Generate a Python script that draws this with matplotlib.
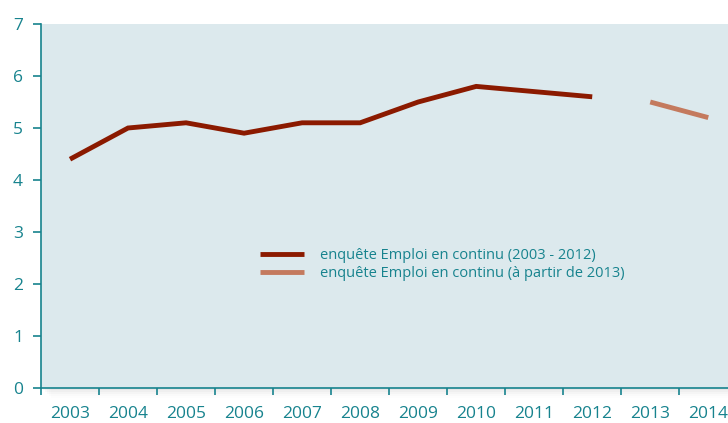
import numpy as np
import matplotlib.pyplot as plt
from matplotlib.patches import Rectangle

years = ["2003", "2004", "2005", "2006", "2007", "2008",
         "2009", "2010", "2011", "2012", "2013", "2014"]
serie_ancienne = [4.4, 5.0, 5.1, 4.9, 5.1, 5.1, 5.5, 5.8, 5.7, 5.6]
serie_nouvelle = [5.5, 5.2]
label_ancienne = "enquête Emploi en continu (2003 - 2012)"
label_nouvelle = "enquête Emploi en continu (à partir de 2013)"

teal = "#17838e"
plt.rcParams['font.family'] = ['Open Sans', 'DejaVu Sans']

fig = plt.figure(figsize=(7.28, 4.23), dpi=100)

# soft shadow below the plot area
for i, a in enumerate([0.06, 0.045, 0.03, 0.02, 0.01]):
    d = (i + 1) * 2
    fig.patches.append(Rectangle((41 / 728 + d / 728, (35 - d) / 423),
                                 1.0, 364 / 423, transform=fig.transFigure,
                                 facecolor="#777777", alpha=a,
                                 edgecolor="none", zorder=0))

ax = fig.add_axes([41 / 728, 35 / 423, 687 / 728, 364 / 423])
ax.set_zorder(2)
ax.set_facecolor("#dce9ed")

x_old = np.arange(len(serie_ancienne))
x_new = np.arange(len(serie_ancienne), len(serie_ancienne) + len(serie_nouvelle))
ax.plot(x_old, serie_ancienne, color="#8b1a00", lw=3.5,
        solid_capstyle="butt", solid_joinstyle="miter", label=label_ancienne)
ax.plot(x_new, serie_nouvelle, color="#c47a5e", lw=3.5,
        solid_capstyle="butt", label=label_nouvelle)

ax.set_xlim(-0.5, 11.34)
ax.set_ylim(0, 7)

ax.set_xticks(np.arange(len(years)))
ax.set_xticklabels(years)
ax.set_xticks(np.arange(len(years)) - 0.5, minor=True)
ax.tick_params(axis="x", which="major", length=0, pad=13,
               labelsize=12.5, labelcolor=teal)
ax.tick_params(axis="x", which="minor", length=5, width=1.2, color=teal)
ax.set_yticks(range(0, 8))
ax.tick_params(axis="y", length=6, width=1.2, color=teal, pad=7,
               labelsize=12.5, labelcolor=teal)

for s in ["top", "right"]:
    ax.spines[s].set_visible(False)
for s in ["left", "bottom"]:
    ax.spines[s].set_color(teal)
    ax.spines[s].set_linewidth(1.2)

leg = ax.legend(loc="upper left", bbox_to_anchor=(0.3, 0.42), frameon=False,
                prop={"size": 10.5}, handlelength=3.0,
                handletextpad=1.1, labelspacing=0.2)
for t in leg.get_texts():
    t.set_color(teal)

fig.savefig("out.png", dpi=100)
